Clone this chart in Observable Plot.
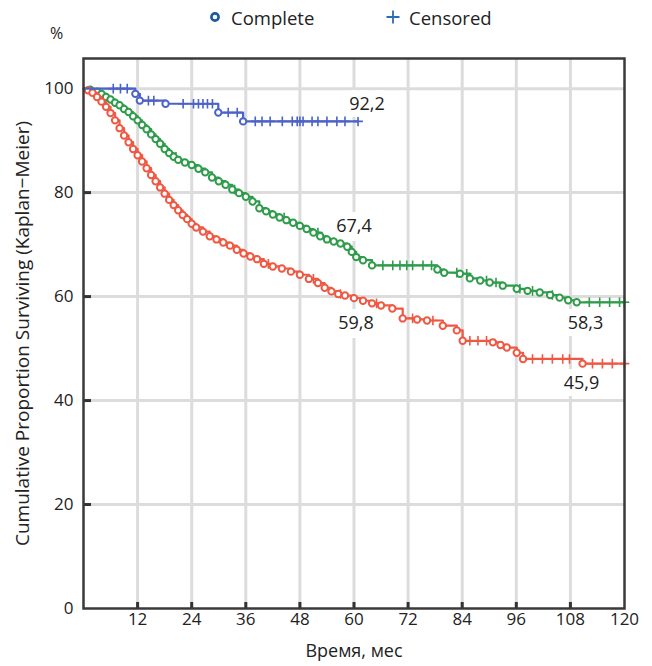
<!DOCTYPE html>
<html><head><meta charset="utf-8">
<script src="https://cdn.jsdelivr.net/npm/d3@7"></script>
<script src="https://cdn.jsdelivr.net/npm/@observablehq/plot@0.6"></script>
<style>
body{margin:0;background:#fff;font-family:"Open Sans",sans-serif;color:#222;}
#wrap{position:relative;width:652px;height:666px;}
#wrap svg{position:absolute;left:0;top:0;}
.lg{position:absolute;font-size:18.5px;line-height:18px;white-space:nowrap;}
</style></head><body>
<div id="wrap">
  <svg width="12" height="12" style="position:absolute;left:209px;top:11px;z-index:2"><circle cx="6" cy="6" r="3.6" fill="none" stroke="#1b5a9c" stroke-width="2.6"/></svg>
  <div class="lg" style="left:231px;top:9px;z-index:2">Complete</div>
  <svg width="16" height="16" style="position:absolute;left:385px;top:9px;z-index:2"><path d="M8,1.5V14.5M1.5,8H14.5" stroke="#2b6db3" stroke-width="1.8" fill="none"/></svg>
  <div class="lg" style="left:409px;top:9px;z-index:2">Censored</div>
  <div class="lg" style="left:50px;top:24px;font-size:16px;z-index:2">%</div>
</div>
<script>
// ---- data ----
const xTicks = [12, 24, 36, 48, 60, 72, 84, 96, 108, 120];
const yTicks = [0, 20, 40, 60, 80, 100];

const blueEventT = [11.5, 12.5, 18.2, 29.9, 35.4];
const blueEventS = [99.0, 97.7, 97.1, 95.4, 93.7];
const blueCensT = [6.6, 8.2, 9.7, 14.4, 15.6, 22.1, 24.4, 25.5, 26.5, 27.5, 28.6, 32.1, 34.1, 38.1, 39.6, 41.4, 44.1, 46.3, 47.4, 48.0, 48.7, 50.7, 52.0, 54.0, 56.2, 58.0, 60.9];
const blueEnd = 60.9;

const greenEventT = [1.5,3,4,5,6,7,8,9,10,11,12,13,14,15,16,17,18,19,20,21,22.5,24,25.5,27,28.5,30,31.5,33,34.5,36,37.5,39,40.5,42,43.5,45,46.5,48,49.5,51,52.5,54,55.5,57,58.5,59.5,60.5,62,64,78.5,80,83.5,85.7,88,90.1,93,96.1,98.5,101.2,103.5,105.6,107.5,109.4];
const greenEventS = [99.8,99.4,99.0,98.4,97.9,97.3,96.8,96.1,95.5,94.7,93.9,93.0,92.2,91.2,90.3,89.4,88.4,87.6,86.9,86.3,85.8,85.3,84.6,83.9,82.9,82.2,81.5,80.6,79.9,79.2,78.3,77.0,76.4,75.8,75.2,74.7,74.2,73.6,73.0,72.3,71.6,71.0,70.6,70.2,69.6,68.6,67.6,67.0,66.0,65.2,64.6,64.4,63.5,63.1,62.7,62.1,61.5,61.1,60.8,60.3,59.8,59.3,58.9];
const greenCensT = [20.5, 33.5, 44.5, 52, 66.4, 68.6, 70.2, 71.7, 73.0, 75.3, 77.2, 82.8, 85.0, 89.4, 91.5, 96.8, 99.6, 104, 112.2, 114.5, 116.7, 118.9, 120];
const greenEnd = 120;

const redEventT = [1,2,3,4,5,6,7,8,9,10,11,12,13,14,15,16,17,18,19,20,21,22,23,24,25,26.5,28,29.5,31,32.5,34,35.5,37,38.5,40,42,44,46,48,50,52,53.5,55,56.5,58,60,62,64,66,68.5,70.8,74,76.2,79.7,82.8,84.1,90.8,92.5,93.9,96.1,97.5,110.7];
const redEventS = [99.7,99.2,98.4,97.5,96.5,95.3,93.9,92.4,91.0,89.7,88.4,87.2,86.0,84.7,83.4,82.2,81.0,79.8,78.6,77.6,76.6,75.7,74.9,74.0,73.3,72.5,71.6,71.0,70.4,69.8,69.0,68.3,67.7,67.2,66.3,65.8,65.4,64.8,64.2,63.4,62.6,61.7,61.0,60.5,60.2,59.7,59.2,58.7,58.3,57.7,55.8,55.6,55.4,54.4,53.5,51.5,51.2,50.7,50.2,49.2,48.0,47.1];
const redCensT = [41, 51, 57, 65, 73, 77.5, 85.7, 87.5, 89.4, 99.6, 101.8, 104, 106.3, 107.8, 112.9, 115.1, 117.3, 120];
const redEnd = 120;

const labelText = ["92,2", "67,4", "59,8", "58,3", "45,9"];
const labelT = [60, 60, 60, 120, 120];

// ---- build ----
const colors = {blue: "#4b62c9", green: "#2f9c4b", red: "#ef5842"};
function stepAt(ts, ss, t) { let v = 100; for (let i = 0; i < ts.length; i++) if (ts[i] <= t) v = ss[i]; return v; }
function build(eT, eS, cT, end) {
  const events = eT.map((t, i) => ({t, s: eS[i]}));
  const line = [{t: 0, s: 100}, ...events, {t: end, s: stepAt(eT, eS, end)}];
  const cens = cT.map(t => ({t, s: stepAt(eT, eS, t)}));
  return {events, line, cens};
}
const B = build(blueEventT, blueEventS, blueCensT, blueEnd);
const G = build(greenEventT, greenEventS, greenCensT, greenEnd);
const R = build(redEventT, redEventS, redCensT, redEnd);

const labelDx = [13, 0, 2, -39, -43];
const labelDy = [-25, -32, 26, 18, 13];
const labels = labelText.map((txt, i) => ({t: labelT[i], v: +txt.replace(",", "."), txt, dx: labelDx[i], dy: labelDy[i]}));

const W = 652, H = 666, mL = 83, mR = 28, mT = 58, mB = 58;
const plotW = W - mL - mR, plotH = H - mT - mB;

function seriesMarks(S, c) {
  return [
    Plot.line(S.line, {x: "t", y: "s", stroke: c, strokeWidth: 2.2, curve: "step-after"}),
    Plot.dot(S.cens, {x: "t", y: "s", symbol: "plus", r: 3.2, stroke: c, strokeWidth: 1.6}),
    Plot.dot(S.events, {x: "t", y: "s", r: 3.2, stroke: c, fill: "white", strokeWidth: 2})
  ];
}

const chart = Plot.plot({
  width: W, height: H,
  marginLeft: mL, marginRight: mR, marginTop: mT, marginBottom: mB,
  style: {fontFamily: "Open Sans, sans-serif", fontSize: "17px", color: "#222", background: "transparent"},
  x: {domain: [0, 120]},
  y: {domain: [0, 105.8]},
  marks: [
    Plot.gridX(xTicks.filter(d => d < 120), {stroke: "#dcdcdc", strokeOpacity: 1, strokeWidth: 3}),
    Plot.gridY(yTicks.filter(d => d > 0), {stroke: "#dcdcdc", strokeOpacity: 1, strokeWidth: 3}),
    Plot.tickY(yTicks.filter(d => d > 0), {y: d => d, stroke: "#333", strokeWidth: 3, insetRight: plotW - 8}),
    Plot.tickX(xTicks.filter(d => d < 120), {x: d => d, stroke: "#333", strokeWidth: 3, insetTop: plotH - 6}),
    Plot.axisX(xTicks, {tickSize: 0, tickPadding: 4, fontSize: 17, label: null}),
    Plot.axisX({ticks: [], tickSize: 0, fontSize: 18, label: "Время, мес", labelAnchor: "center", labelOffset: 48, labelArrow: "none"}),
    Plot.axisY(yTicks, {tickSize: 0, tickPadding: 10, fontSize: 17, label: null}),
    Plot.axisY({ticks: [], tickSize: 0, fontSize: 19, label: "Cumulative Proportion Surviving (Kaplan−Meier)", labelAnchor: "center", labelOffset: 68, labelArrow: "none"}),
    ...seriesMarks(G, colors.green),
    ...seriesMarks(R, colors.red),
    ...seriesMarks(B, colors.blue),
    ...labels.map(l => Plot.text([l], {x: "t", y: "v", text: "txt", dx: l.dx, dy: l.dy, fontSize: 18, fill: "#222", stroke: "white", strokeWidth: 14, strokeLinejoin: "miter"})),
    Plot.frame({stroke: "#3a3a3a", strokeWidth: 2.5})
  ]
});
document.getElementById("wrap").appendChild(chart);
</script>
</body></html>
